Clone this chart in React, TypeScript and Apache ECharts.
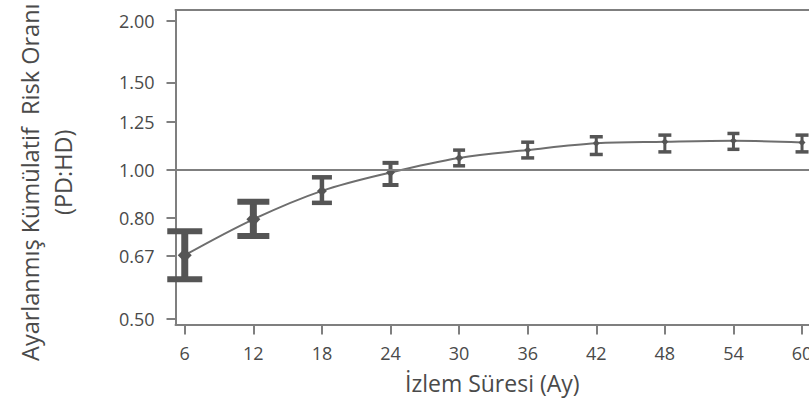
import React, { useEffect, useRef } from "react";
import * as echarts from "echarts";

// ---- data ----
const MONTHS = [6, 12, 18, 24, 30, 36, 42, 48, 54, 60];
const HR = [0.673, 0.795, 0.907, 0.988, 1.057, 1.096, 1.131, 1.139, 1.144, 1.136];
const CI_LOW = [0.602, 0.736, 0.858, 0.932, 1.019, 1.057, 1.074, 1.087, 1.1, 1.087];
const CI_HIGH = [0.752, 0.862, 0.966, 1.033, 1.096, 1.137, 1.166, 1.175, 1.184, 1.175];
const Y_TICKS = [0.5, 0.67, 0.8, 1.0, 1.25, 1.5, 2.0];
const X_TICKS = [6, 12, 18, 24, 30, 36, 42, 48, 54, 60];
const REF_HR = 1.0;

const X_TITLE = "İzlem Süresi (Ay)";
const Y_TITLE_1 = "Ayarlanmış Kümülatif  Risk Oranı";
const Y_TITLE_2 = "(PD:HD)";

// ---- styles (mark sizes per point, in px) ----
const CAP_W = [35, 32, 20, 16, 12, 13, 13, 13, 12, 13];
const CAP_T = [6, 6, 4.5, 4, 3.5, 3.5, 3.5, 3.5, 3.5, 3.5];
const STEM_W = [7, 7, 4.5, 4, 3, 3, 3, 3, 3, 3];
const MARK_R = [7, 7, 5, 4.5, 4, 3.5, 3.5, 3.5, 3.5, 3.5];

const MARK_COLOR = "#555555";
const LINE_COLOR = "#6e6e6e";
const AXIS_COLOR = "#7f7f7f";
const TEXT_COLOR = "#4a4a4a";
const FONT = "Open Sans";

const lg = (v: number) => Math.log10(v);

export default function App() {
  const ref = useRef<HTMLDivElement>(null);

  useEffect(() => {
    if (!ref.current) return;
    const chart = echarts.init(ref.current, null, { renderer: "svg" });

    const yMin = lg(0.5) - 0.0107;
    const yMax = lg(2.0) + 0.0212;
    const xMin = 5.19;
    const xMax = 60.61;

    const lineData = MONTHS.map((m, i) => [m, lg(HR[i])]);
    const errData = MONTHS.map((m, i) => [m, lg(HR[i]), lg(CI_LOW[i]), lg(CI_HIGH[i])]);

    const option: any = {
      animation: false,
      grid: {
        left: 175.5,
        top: 10,
        right: 0,
        bottom: 86.5,
        outerBoundsMode: "none",
        containLabel: false,
      },
      xAxis: [
        {
          type: "value",
          min: xMin,
          max: xMax,
          position: "bottom",
          name: X_TITLE,
          nameLocation: "middle",
          nameGap: 47,
          nameMoveOverlap: false,
          nameTextStyle: { fontFamily: FONT, fontSize: 23, color: TEXT_COLOR },
          axisLine: { show: true, onZero: false, lineStyle: { color: AXIS_COLOR, width: 2 } },
          axisTick: {
            show: true,
            length: 10,
            customValues: X_TICKS,
            lineStyle: { color: AXIS_COLOR, width: 2 },
          },
          axisLabel: {
            customValues: X_TICKS,
            margin: 19,
            fontFamily: FONT,
            fontSize: 18,
            color: TEXT_COLOR,
            showMinLabel: true,
            showMaxLabel: true,
            hideOverlap: false,
          },
          splitLine: { show: false },
        },
        {
          type: "value",
          min: xMin,
          max: xMax,
          position: "top",
          axisLine: { show: true, onZero: false, lineStyle: { color: AXIS_COLOR, width: 2 } },
          axisTick: { show: false },
          axisLabel: { show: false },
          splitLine: { show: false },
        },
      ],
      yAxis: {
        type: "value",
        min: yMin,
        max: yMax,
        name: "{a|" + Y_TITLE_1 + "}\n{b|" + Y_TITLE_2 + "}",
        nameLocation: "middle",
        nameRotate: 90,
        nameGap: 96,
        nameMoveOverlap: false,
        nameTextStyle: {
          fontFamily: FONT,
          fontSize: 23.5,
          lineHeight: 33,
          color: TEXT_COLOR,
          align: "center",
          padding: [0, 30, 0, 0],
          rich: {
            a: { fontFamily: FONT, fontSize: 23.5, lineHeight: 33, color: TEXT_COLOR },
            b: {
              fontFamily: FONT,
              fontSize: 23.5,
              lineHeight: 33,
              color: TEXT_COLOR,
              padding: [0, 0, 0, 20],
            },
          },
        },
        axisLine: { show: true, onZero: false, lineStyle: { color: AXIS_COLOR, width: 2 } },
        axisTick: {
          show: true,
          length: 9,
          customValues: Y_TICKS.map(lg),
          lineStyle: { color: AXIS_COLOR, width: 2 },
        },
        axisLabel: {
          customValues: Y_TICKS.map(lg),
          formatter: (v: number) => Math.pow(10, v).toFixed(2),
          margin: 21,
          fontFamily: FONT,
          fontSize: 18,
          color: TEXT_COLOR,
          showMinLabel: true,
          showMaxLabel: true,
        },
        splitLine: { show: false },
      },
      series: [
        {
          type: "line",
          data: lineData,
          smooth: 0.35,
          symbol: "none",
          lineStyle: { color: LINE_COLOR, width: 2 },
          z: 2,
          markLine: {
            silent: true,
            symbol: "none",
            label: { show: false },
            lineStyle: { color: AXIS_COLOR, width: 2, type: "solid" },
            data: [{ yAxis: lg(REF_HR) }],
          },
        },
        {
          type: "custom",
          data: errData,
          encode: { x: 0, y: [1, 2, 3] },
          z: 3,
          renderItem: (params: any, api: any) => {
            const i = params.dataIndex;
            const x = api.value(0);
            const c = api.coord([x, api.value(1)]);
            const lo = api.coord([x, api.value(2)]);
            const hi = api.coord([x, api.value(3)]);
            const w = CAP_W[i];
            const t = CAP_T[i];
            const s = STEM_W[i];
            const m = MARK_R[i];
            const style = { fill: MARK_COLOR };
            return {
              type: "group",
              children: [
                {
                  type: "rect",
                  shape: { x: c[0] - s / 2, y: hi[1], width: s, height: lo[1] - hi[1] },
                  style,
                },
                {
                  type: "rect",
                  shape: { x: c[0] - w / 2, y: hi[1] - t / 2, width: w, height: t },
                  style,
                },
                {
                  type: "rect",
                  shape: { x: c[0] - w / 2, y: lo[1] - t / 2, width: w, height: t },
                  style,
                },
                {
                  type: "polygon",
                  shape: {
                    points: [
                      [c[0], c[1] - m],
                      [c[0] + m, c[1]],
                      [c[0], c[1] + m],
                      [c[0] - m, c[1]],
                    ],
                  },
                  style,
                },
              ],
            };
          },
        },
      ],
    };

    chart.setOption(option);
    return () => chart.dispose();
  }, []);

  return (
    <div
      ref={ref}
      style={{ position: "fixed", left: 0, top: 0, width: 809, height: 411, background: "#fff" }}
    />
  );
}
